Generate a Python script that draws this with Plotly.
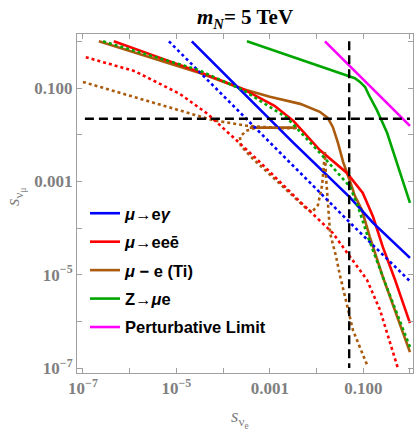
import numpy as np
import plotly.graph_objects as go

# ---- data: log10 values (x = S_nu_e, y = S_nu_mu) ----
blue_solid_lx = [-4.67, -2.50, -1.28, -0.79, 0.0]
blue_solid_ly = [0.0, -2.17, -3.35, -3.89, -4.64]
blue_dot_lx = [-5.16, -2.14, -1.28, 0.0]
blue_dot_ly = [0.0, -3.02, -3.89, -5.14]

red_solid_lx = [-6.34, -4.50, -3.58, -2.90, -2.50, -1.93, -1.35, -1.01, -0.79, -0.58, -0.32, 0.0]
red_solid_ly = [0.0, -0.66, -1.02, -1.38, -1.70, -2.33, -2.82, -3.25, -3.76, -4.41, -5.11, -6.04]
red_dot_lx = [-6.94, -5.89, -4.92, -4.35, -3.79, -3.21, -2.35, -1.65, -1.28, -0.92, -0.64, -0.26]
red_dot_ly = [-0.34, -0.64, -1.13, -1.54, -2.05, -2.59, -3.44, -4.11, -4.62, -5.11, -5.76, -7.0]

brown_solid_lx = [-6.66, -4.50, -3.58, -3.00, -2.35, -1.93, -1.76, -1.65, -1.54, -1.43,
                  -1.28, -1.18, -1.03, -0.86, -0.58, 0.0]
brown_solid_ly = [0.0, -0.68, -1.02, -1.19, -1.34, -1.51, -1.64, -1.84, -2.18, -2.59,
                  -3.01, -3.31, -3.61, -4.19, -5.05, -6.66]
brown_seg_lx = [-3.43, -2.42]
brown_seg_ly = [-1.85, -1.85]
brown_dot1_lx = [-7.0, -5.84, -4.92, -4.22, -3.49, -2.78, -2.42]
brown_dot1_ly = [-0.87, -1.21, -1.49, -1.69, -1.81, -1.86, -1.86]
brown_dot2_lx = [-3.32, -3.51, -3.64, -3.62, -3.38, -2.57, -2.23, -2.10, -1.97, -1.88,
                 -1.84, -1.82, -1.80, -1.71, -1.58, -1.50, -1.22, -0.90]
brown_dot2_ly = [-1.86, -1.92, -2.05, -2.24, -2.50, -3.25, -3.57, -3.66, -3.51, -3.08,
                 -2.54, -2.37, -2.86, -4.11, -4.62, -5.01, -6.19, -6.98]

green_solid_lx = [-3.49, -1.35, -1.18, -1.07, -0.96, -0.88, -0.71, -0.49, 0.0]
green_solid_ly = [0.0, -0.72, -0.79, -0.87, -0.98, -1.15, -1.47, -1.96, -3.46]
green_dot_lx = [-6.57, -4.54, -3.58, -2.63, -1.93, -1.28, -1.11, -0.90, -0.58, 0.0]
green_dot_ly = [0.0, -0.61, -1.04, -1.64, -2.39, -3.12, -3.55, -4.19, -5.05, -6.55]

magenta_lx = [-1.82, 0.0]
magenta_ly = [0.0, -1.81]

h_cut = 0.022       # horizontal dashed line (S_nu_mu)
v_cut = 0.05        # vertical dashed line (S_nu_e)
h_cut_x = [1.1e-7, 1.0]
v_cut_y = [1.0, 1.0e-7]

x_tickvals = [1e-7, 1e-6, 1e-5, 1e-4, 1e-3, 1e-2, 1e-1, 1]
x_ticktext = ["10<sup>\u22127</sup>", "", "10<sup>\u22125</sup>", "", "0.001", "", "0.100", ""]
y_tickvals = [1e-7, 1e-6, 1e-5, 1e-4, 1e-3, 1e-2, 1e-1, 1]
y_ticktext = ["10<sup>\u22127</sup>", "", "10<sup>\u22125</sup>", "", "0.001", "", "0.100", ""]

BLUE = "#0000FF"
RED = "#FF0000"
BROWN = "#AA5B0E"
GREEN = "#00A600"
MAGENTA = "#FF00FF"

def p10(a):
    return np.power(10.0, np.array(a, dtype=float))

fig = go.Figure()
LW = 2.6

def add(lx, ly, color, dash="solid", name=None, rank=None, group=None):
    fig.add_trace(go.Scatter(
        x=p10(lx), y=p10(ly), mode="lines",
        line=dict(color=color, width=LW, dash=dash),
        name=name if name else "", showlegend=name is not None,
        legendrank=rank if rank else 1000, legendgroup=group,
        hoverinfo="skip"))

add(brown_solid_lx, brown_solid_ly, BROWN, name="<i>\u03bc</i> \u2212 e (Ti)", rank=3, group="c")
add(brown_seg_lx, brown_seg_ly, BROWN, group="c")
add(red_solid_lx, red_solid_ly, RED, name="<i>\u03bc</i>\u2192ee\u0113", rank=2, group="b")
add(blue_solid_lx, blue_solid_ly, BLUE, name="<i>\u03bc</i>\u2192e<i>\u03b3</i>", rank=1, group="a")
add(green_solid_lx, green_solid_ly, GREEN, name="Z\u2192<i>\u03bc</i>e", rank=4, group="d")
add(magenta_lx, magenta_ly, MAGENTA, name="Perturbative Limit", rank=5, group="e")
add(brown_dot1_lx, brown_dot1_ly, BROWN, dash="dot", group="c")
add(brown_dot2_lx, brown_dot2_ly, BROWN, dash="dot", group="c")
add(red_dot_lx, red_dot_ly, RED, dash="dot", group="b")
add(blue_dot_lx, blue_dot_ly, BLUE, dash="dot", group="a")
add(green_dot_lx, green_dot_ly, GREEN, dash="dot", group="d")

fig.add_trace(go.Scatter(x=h_cut_x, y=[h_cut, h_cut], mode="lines",
                         line=dict(color="black", width=2.4, dash="9px,5px"),
                         showlegend=False, hoverinfo="skip"))
fig.add_trace(go.Scatter(x=[v_cut, v_cut], y=v_cut_y, mode="lines",
                         line=dict(color="black", width=2.4, dash="9px,5px"),
                         showlegend=False, hoverinfo="skip"))

FRAME = "#A0A0A0"
TICKFONT = dict(family="Liberation Serif", size=17, color="#7F7F7F", weight="bold")

fig.update_xaxes(type="log", range=[-7.128, 0.065], tickvals=x_tickvals, ticktext=x_ticktext,
                 ticks="inside", ticklen=5, tickcolor=FRAME, showline=True, linecolor=FRAME,
                 linewidth=1, mirror="allticks", showgrid=False, zeroline=False,
                 tickfont=TICKFONT)
fig.update_yaxes(type="log", range=[-7.107, 0.157], tickvals=y_tickvals, ticktext=y_ticktext,
                 ticks="inside", ticklen=5, tickcolor=FRAME, showline=True, linecolor=FRAME,
                 linewidth=1, mirror="allticks", showgrid=False, zeroline=False,
                 tickfont=TICKFONT)

fig.update_layout(
    width=415, height=434,
    margin=dict(l=77, r=2, t=34, b=61),
    paper_bgcolor="white", plot_bgcolor="white",
    title=dict(text="<b><i>m</i><sub><i>N</i></sub>= 5 TeV</b>", x=(245 / 415), xanchor="center",
               y=1 - 17 / 434, yanchor="middle",
               font=dict(family="Liberation Serif", size=21, color="black")),
    legend=dict(x=(85 - 77) / 336, y=(373 - 196) / 339, xanchor="left", yanchor="top",
                bgcolor="rgba(0,0,0,0)", tracegroupgap=4, itemwidth=30,
                font=dict(family="Liberation Sans", size=16.5, color="black", weight="bold")),
    annotations=[
        dict(text="<i>s</i><sub>\u03bd<sub>e</sub></sub>", xref="paper", yref="paper",
             x=(240 - 77) / 336, y=(373 - 418) / 339, xanchor="center", yanchor="middle",
             showarrow=False, font=dict(family="Liberation Serif", size=19, color="#7F7F7F")),
        dict(text="<i>s</i><sub>\u03bd<sub>\u03bc</sub></sub>", xref="paper", yref="paper",
             x=(15 - 77) / 336, y=(373 - 197) / 339, xanchor="center", yanchor="middle",
             textangle=-90, showarrow=False,
             font=dict(family="Liberation Serif", size=19, color="#7F7F7F")),
    ],
)

fig.write_html("out.html")
